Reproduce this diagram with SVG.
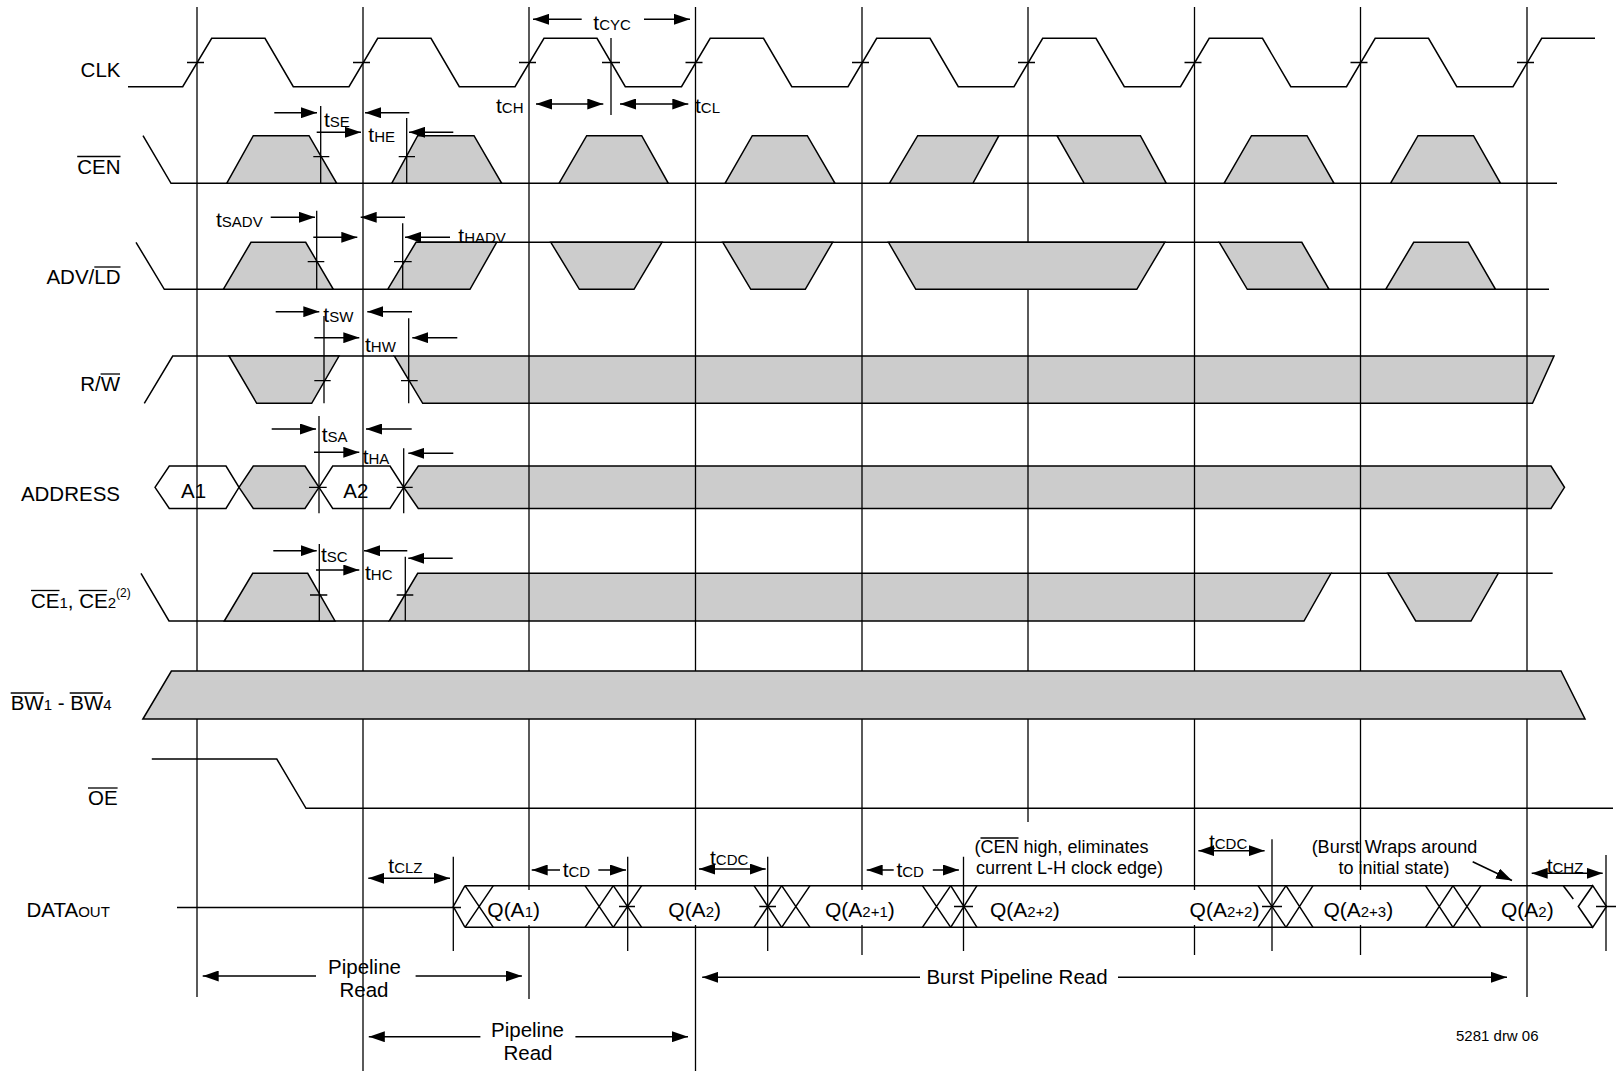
<svg xmlns="http://www.w3.org/2000/svg" width="1616" height="1071" viewBox="0 0 1616 1071">
<defs>
<marker id="ah" markerUnits="userSpaceOnUse" markerWidth="16" markerHeight="11" refX="16" refY="5.5" orient="auto-start-reverse" viewBox="0 0 16 11"><path d="M0,0 L16,5.5 L0,11 z" fill="#000"/></marker>
<style>
.w{fill:none;stroke:#000;stroke-width:1.5}
.g{fill:#cccccc;stroke:#000;stroke-width:1.5;stroke-linejoin:miter}
.wh{fill:#fff;stroke:#000;stroke-width:1.5}
.grid{stroke:#000;stroke-width:1.3}
.tk{stroke:#000;stroke-width:1.3}
.ar{stroke:#000;stroke-width:1.5;fill:none;marker-end:url(#ah)}
.da{stroke:#000;stroke-width:1.5;fill:none;marker-start:url(#ah);marker-end:url(#ah)}
text{font-family:"Liberation Sans",Arial,sans-serif;fill:#000}
.lbl{font-size:20.5px}
.a{font-size:21px}
.s{font-size:15px}
.q{font-size:21px}
.n{font-size:18px}
.p{font-size:20.5px}
.ov{stroke:#000;stroke-width:1.3}
</style>
</defs>
<rect width="1616" height="1071" fill="#fff"/>

<!-- bands under grid -->
<g id="rw">
<path class="w" d="M144.3,403.3 L172.7,356 H394.3"/>
<polygon class="g" points="229,356 339,356 311.7,403.3 256.7,403.3"/>
<polygon class="g" points="394.3,356 1554,356 1532.5,403.3 422.7,403.3"/>
</g>
<g id="address">
<polygon class="wh" points="155,487.3 169.3,466 226,466 239,487.3 226,508.5 169.3,508.5"/>
<polygon class="g" points="239,487.3 253.3,466 305,466 319,487.3 305,508.5 253.3,508.5"/>
<polygon class="wh" points="319,487.3 332.7,466 390,466 403.7,487.3 390,508.5 332.7,508.5"/>
<polygon class="g" points="403.7,487.3 418.3,466 1551,466 1564.5,487.3 1551,508.5 418.3,508.5"/>
</g>
<g id="ce">
<path class="w" d="M141,573.3 L169,621 H389.3"/>
<polygon class="g" points="224.3,621 252.7,573.3 307.7,573.3 335,621"/>
<polygon class="g" points="389.3,621 417.7,573.3 1331,573.3 1304,621"/>
<path class="w" d="M1331,573.3 H1552.7"/>
<polygon class="g" points="1387.7,573.3 1498.3,573.3 1471,621 1415.7,621"/>
</g>

<!-- grid -->
<g id="grid">
<line class="grid" x1="197" y1="7" x2="197" y2="997"/>
<line class="grid" x1="363" y1="7" x2="363" y2="1071"/>
<line class="grid" x1="529" y1="7" x2="529" y2="890"/>
<line class="grid" x1="529" y1="925" x2="529" y2="999"/>
<line class="grid" x1="695.5" y1="7" x2="695.5" y2="890"/>
<line class="grid" x1="695.5" y1="925" x2="695.5" y2="1071"/>
<line class="grid" x1="862" y1="7" x2="862" y2="890"/>
<line class="grid" x1="862" y1="925" x2="862" y2="955"/>
<line class="grid" x1="1028" y1="7" x2="1028" y2="822"/>
<line class="grid" x1="1194.5" y1="7" x2="1194.5" y2="890"/>
<line class="grid" x1="1194.5" y1="925" x2="1194.5" y2="955"/>
<line class="grid" x1="1360.5" y1="7" x2="1360.5" y2="890"/>
<line class="grid" x1="1360.5" y1="925" x2="1360.5" y2="955"/>
<line class="grid" x1="1527" y1="7" x2="1527" y2="997"/>
</g>

<g id="clk">
<path class="w" d="M128,86.7 H182.7 L211.7,38.3 H265 L293.3,86.7 H349 L377.7,38.3 H431 L459.3,86.7 H515 L544,38.3 H597 L625.3,86.7 H681.5 L710.2,38.3 H763.5 L791.8,86.7 H848 L876.7,38.3 H930 L958.3,86.7 H1014 L1042.7,38.3 H1096 L1124.3,86.7 H1180.5 L1209.2,38.3 H1262.5 L1290.8,86.7 H1346.5 L1375.2,38.3 H1428.5 L1456.8,86.7 H1513 L1541.7,38.3 H1595"/>
<path class="tk" d="M187,62.5 H204 M353,62.5 H370 M519,62.5 H536 M685.5,62.5 H702.5 M852,62.5 H869 M1018,62.5 H1035 M1184.5,62.5 H1201.5 M1350.5,62.5 H1367.5 M1517,62.5 H1534 M602,62.5 H620 M611,38 V115"/>
</g>

<g id="cen">
<path class="w" d="M143,135.7 L171,183.3 H1557"/>
<polygon class="g" points="226.7,183.3 253.3,135.7 309,135.7 336.7,183.3"/>
<polygon class="g" points="391.7,183.3 417.7,135.7 474,135.7 501.7,183.3"/>
<polygon class="g" points="559,183.3 586.7,135.7 641.7,135.7 668.3,183.3"/>
<polygon class="g" points="725,183.3 752.3,135.7 807.3,135.7 835,183.3"/>
<polygon class="g" points="889.4,183.3 917.7,135.7 998.9,135.7 972.9,183.3"/>
<path class="w" d="M998.9,135.7 H1057"/>
<polygon class="g" points="1057,135.7 1140.4,135.7 1166.3,183.3 1084.2,183.3"/>
<polygon class="g" points="1224,183.3 1251.5,135.7 1307,135.7 1334,183.3"/>
<polygon class="g" points="1390.5,183.3 1418,135.7 1473.5,135.7 1500.5,183.3"/>
<path class="tk" d="M320.7,106 V183.3 M313.3,156.7 H329.3 M406.7,118 V183.3 M398.7,156.7 H415"/>
</g>

<g id="adv">
<path class="w" d="M136,242.3 L164.3,289.3 H387.7 M416,242.3 H1219.3 M1247.3,289.3 H1549"/>
<polygon class="g" points="223.3,289.3 251,242.3 305.7,242.3 333.3,289.3"/>
<polygon class="g" points="387.7,289.3 416,242.3 496.7,242.3 470,289.3"/>
<polygon class="g" points="550.8,242.3 662,242.3 634,289.3 579.4,289.3"/>
<polygon class="g" points="722.8,242.3 832.6,242.3 805.3,289.3 750.8,289.3"/>
<polygon class="g" points="888.5,242.3 1164.8,242.3 1136.8,289.3 915.8,289.3"/>
<polygon class="g" points="1219.3,242.3 1301.8,242.3 1329,289.3 1247.3,289.3"/>
<polygon class="g" points="1385.7,289.3 1413.7,242.3 1468.3,242.3 1495.5,289.3"/>
<path class="tk" d="M316.7,210.7 V289.3 M307.7,261.7 H324.3 M402.7,223.3 V289.3 M394,261.7 H411.7"/>
</g>

<g id="rw-ticks">
<path class="tk" d="M324,316 V403.3 M314.3,380.7 H330.7 M408.7,318.3 V403.3 M401,380.7 H417.7"/>
</g>
<g id="address-ticks">
<path class="tk" d="M319,416 V513.3 M309,487.3 H326.7 M403.7,448.3 V513.3 M396.7,487.3 H412.7"/>
</g>
<g id="ce-ticks">
<path class="tk" d="M319.3,544 V621 M310,595 H327.3 M405.3,556.7 V621 M396.7,595 H413.3"/>
</g>

<g id="bw">
<polygon class="g" points="142.9,719 171.4,671 1561,671 1585,719"/>
</g>
<g id="oe">
<path class="w" d="M151.8,759 H276.8 L306,808.3 H1613"/>
</g>

<g id="dataout">
<path class="w" d="M177,907.5 H461"/>
<path class="w" d="M465,885.7 H1592.7 M465,927.3 H1592.7"/>
<path class="w" d="M465,885.7 L453.3,906.5 L465,927.3 M465,885.7 L493.3,927.3 M465,927.3 L493.3,885.7"/>
<path class="w" d="M585,885.7 L613.3,927.3 M585,927.3 L613.3,885.7 M613.3,885.7 L641.7,927.3 M613.3,927.3 L641.7,885.7"/>
<path class="w" d="M754,885.7 L781.7,927.3 M754,927.3 L781.7,885.7 M781.7,885.7 L810,927.3 M781.7,927.3 L810,885.7"/>
<path class="w" d="M922.4,885.7 L950.7,927.3 M922.4,927.3 L950.7,885.7 M950.7,885.7 L977,927.3 M950.7,927.3 L977,885.7"/>
<path class="w" d="M1258,885.7 L1286,927.3 M1258,927.3 L1286,885.7 M1286,885.7 L1313,927.3 M1286,927.3 L1313,885.7"/>
<path class="w" d="M1425.5,885.7 L1453,927.3 M1425.5,927.3 L1453,885.7 M1453,885.7 L1481,927.3 M1453,927.3 L1481,885.7"/>
<path class="w" d="M1563.3,885.7 L1573.3,899"/>
<polygon class="w" points="1578.3,906.5 1592.7,885.7 1606.5,906.5 1592.7,927.3"/>
<path class="tk" d="M453.3,856.7 V951 M627.7,856.7 V951 M619,906.5 H635 M767.7,856.7 V951 M759.3,906.5 H776 M963.5,856.7 V951 M954,906.5 H973 M1272,839.3 V951 M1262,906.5 H1282 M1606,855 V951 M1596,906.5 H1616"/>
<text class="q" x="487.3" y="916.5">Q(A<tspan class="s">1</tspan>)</text>
<text class="q" x="668.3" y="916.5">Q(A<tspan class="s">2</tspan>)</text>
<text class="q" x="825" y="916.5">Q(A<tspan class="s">2+1</tspan>)</text>
<text class="q" x="990" y="916.5">Q(A<tspan class="s">2+2</tspan>)</text>
<text class="q" x="1189.6" y="916.5">Q(A<tspan class="s">2+2</tspan>)</text>
<text class="q" x="1323.4" y="916.5">Q(A<tspan class="s">2+3</tspan>)</text>
<text class="q" x="1501" y="916.5">Q(A<tspan class="s">2</tspan>)</text>
</g>

<!-- signal labels -->
<g id="labels">
<text class="lbl" x="120.5" y="76.5" text-anchor="end">CLK</text>
<text class="lbl" x="120.5" y="173.5" text-anchor="end">CEN</text>
<line class="ov" x1="77.2" y1="156.5" x2="120.5" y2="156.5"/>
<text class="lbl" x="120.5" y="284" text-anchor="end">ADV/LD</text>
<line class="ov" x1="94.3" y1="267" x2="120.5" y2="267"/>
<text class="lbl" x="120" y="391" text-anchor="end">R/W</text>
<line class="ov" x1="100.6" y1="374" x2="120" y2="374"/>
<text class="lbl" x="120" y="501" text-anchor="end">ADDRESS</text>
<text class="lbl" x="31" y="607.5">CE<tspan class="s">1</tspan>, CE<tspan class="s">2</tspan><tspan font-size="12" dy="-11">(2)</tspan></text>
<line class="ov" x1="31" y1="590.5" x2="59.5" y2="590.5"/>
<line class="ov" x1="78.7" y1="590.5" x2="107.2" y2="590.5"/>
<text class="lbl" x="10.7" y="710">BW<tspan class="s">1</tspan> - BW<tspan class="s">4</tspan></text>
<line class="ov" x1="10.7" y1="693" x2="43.7" y2="693"/>
<line class="ov" x1="69.7" y1="693" x2="102.7" y2="693"/>
<text class="lbl" x="88" y="805">OE</text>
<line class="ov" x1="88" y1="788" x2="117.6" y2="788"/>
<text class="lbl" x="26.5" y="917">DATA<tspan class="s">OUT</tspan></text>
<text class="lbl" x="181" y="498.3">A1</text>
<text class="lbl" x="343.3" y="498.3">A2</text>
</g>

<!-- timing annotations -->
<g id="connectors">
<line class="ar" x1="581.7" y1="19.3" x2="533" y2="19.3"/>
<line class="ar" x1="644" y1="19.3" x2="690" y2="19.3"/>
<line class="da" x1="536" y1="104" x2="603.3" y2="104"/>
<line class="da" x1="620" y1="104" x2="688.3" y2="104"/>
<line class="ar" x1="274.3" y1="112.7" x2="317" y2="112.7"/>
<line class="ar" x1="409.3" y1="112.7" x2="365" y2="112.7"/>
<line class="ar" x1="316.7" y1="132.3" x2="361" y2="132.3"/>
<line class="ar" x1="453.3" y1="132.3" x2="409" y2="132.3"/>
<line class="ar" x1="270.7" y1="217.3" x2="315" y2="217.3"/>
<line class="ar" x1="405" y1="217.3" x2="360.7" y2="217.3"/>
<line class="ar" x1="313.3" y1="237.3" x2="357.3" y2="237.3"/>
<line class="ar" x1="450" y1="237.3" x2="405" y2="237.3"/>
<line class="ar" x1="275.7" y1="311.7" x2="319.3" y2="311.7"/>
<line class="ar" x1="412" y1="311.7" x2="367.3" y2="311.7"/>
<line class="ar" x1="314.3" y1="337.7" x2="359.3" y2="337.7"/>
<line class="ar" x1="457.3" y1="337.7" x2="412.3" y2="337.7"/>
<line class="ar" x1="271.7" y1="429" x2="316" y2="429"/>
<line class="ar" x1="411.7" y1="429" x2="366" y2="429"/>
<line class="ar" x1="314" y1="452.3" x2="359.3" y2="452.3"/>
<line class="ar" x1="453.3" y1="453.3" x2="408.3" y2="453.3"/>
<line class="ar" x1="273.3" y1="550.7" x2="316.7" y2="550.7"/>
<line class="ar" x1="407.3" y1="550.7" x2="364" y2="550.7"/>
<line class="ar" x1="316" y1="570" x2="359.3" y2="570"/>
<line class="ar" x1="452.7" y1="558.3" x2="408.3" y2="558.3"/>
<line class="da" x1="368.3" y1="878.3" x2="450" y2="878.3"/>
<line class="ar" x1="560" y1="870" x2="531.7" y2="870"/>
<line class="ar" x1="598.3" y1="870" x2="626" y2="870"/>
<line class="da" x1="699" y1="869" x2="765.7" y2="869"/>
<line class="ar" x1="893.7" y1="870" x2="866.7" y2="870"/>
<line class="ar" x1="932.8" y1="870" x2="958.9" y2="870"/>
<line class="da" x1="1198.4" y1="850.7" x2="1264.6" y2="850.7"/>
<line class="da" x1="1531.7" y1="873.3" x2="1602.7" y2="873.3"/>
<line class="ar" x1="1472.7" y1="861.7" x2="1512" y2="880.5"/>
<line class="ar" x1="316" y1="976" x2="202.7" y2="976"/>
<line class="ar" x1="415.6" y1="976" x2="521.9" y2="976"/>
<line class="ar" x1="920" y1="977.3" x2="702.2" y2="977.3"/>
<line class="ar" x1="1118" y1="977.3" x2="1507" y2="977.3"/>
<line class="ar" x1="480.4" y1="1036.7" x2="368.8" y2="1036.7"/>
<line class="ar" x1="575.4" y1="1036.7" x2="688" y2="1036.7"/>
</g>

<g id="annotation-text">
<text class="a" x="593.3" y="30">t<tspan class="s">CYC</tspan></text>
<text class="a" x="496" y="113">t<tspan class="s">CH</tspan></text>
<text class="a" x="695" y="113">t<tspan class="s">CL</tspan></text>
<text class="a" x="324" y="126.7">t<tspan class="s">SE</tspan></text>
<text class="a" x="368.3" y="141.7">t<tspan class="s">HE</tspan></text>
<text class="a" x="216" y="226.7">t<tspan class="s">SADV</tspan></text>
<text class="a" x="458.3" y="243.3">t<tspan class="s">HADV</tspan></text>
<text class="a" x="323.3" y="321.7">t<tspan class="s">SW</tspan></text>
<text class="a" x="365" y="351.7">t<tspan class="s">HW</tspan></text>
<text class="a" x="321.7" y="441.7">t<tspan class="s">SA</tspan></text>
<text class="a" x="362.7" y="464">t<tspan class="s">HA</tspan></text>
<text class="a" x="321" y="561.7">t<tspan class="s">SC</tspan></text>
<text class="a" x="365" y="580">t<tspan class="s">HC</tspan></text>
<text class="a" x="388.3" y="873.3">t<tspan class="s">CLZ</tspan></text>
<text class="a" x="562.7" y="877.3">t<tspan class="s">CD</tspan></text>
<text class="a" x="710" y="865">t<tspan class="s">CDC</tspan></text>
<text class="a" x="896.4" y="877">t<tspan class="s">CD</tspan></text>
<text class="a" x="1208.9" y="849">t<tspan class="s">CDC</tspan></text>
<text class="a" x="1546.7" y="873">t<tspan class="s">CHZ</tspan></text>
<text class="n" x="974.5" y="853.3">(CEN high, eliminates</text>
<line class="ov" x1="980.5" y1="838" x2="1018.5" y2="838"/>
<text class="n" x="976" y="874">current L-H clock edge)</text>
<text class="n" x="1394.5" y="853.3" text-anchor="middle">(Burst Wraps around</text>
<text class="n" x="1394" y="874" text-anchor="middle">to initial state)</text>
<text class="p" x="364.5" y="974" text-anchor="middle">Pipeline</text>
<text class="p" x="364" y="996.7" text-anchor="middle">Read</text>
<text class="p" x="1017" y="984" text-anchor="middle">Burst Pipeline Read</text>
<text class="p" x="527.5" y="1037.3" text-anchor="middle">Pipeline</text>
<text class="p" x="528" y="1060" text-anchor="middle">Read</text>
<text x="1456" y="1041" font-size="15">5281 drw 06</text>
</g>
</svg>
